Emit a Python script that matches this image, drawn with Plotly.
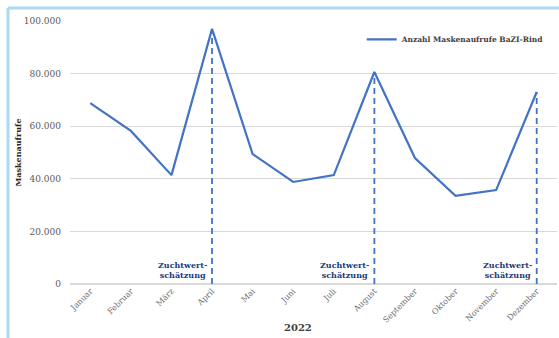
import plotly.graph_objects as go

months = ["Januar", "Februar", "März", "April", "Mai", "Juni", "Juli",
          "August", "September", "Oktober", "November", "Dezember"]
aufrufe = [68800, 58200, 41400, 97000, 49400, 38800, 41400,
           80600, 47900, 33500, 35700, 73000]
zws_months = ["April", "August", "Dezember"]
zws_label = "Zuchtwert-<br>schätzung"
x_title = "2022"
y_ticks = [0, 20000, 40000, 60000, 80000, 100000]

blue = "#4472c4"
font_fam = "DejaVu Serif"

fig = go.Figure()
fig.add_trace(go.Scatter(x=months, y=aufrufe, mode="lines",
                         line=dict(color=blue, width=2.2),
                         name="Anzahl Maskenaufrufe BaZI-Rind"))
for m in zws_months:
    v = aufrufe[months.index(m)]
    fig.add_trace(go.Scatter(x=[m, m], y=[0, v], mode="lines",
                             line=dict(color=blue, width=1.8, dash="6px,4px"),
                             showlegend=False, hoverinfo="skip"))
    fig.add_annotation(x=m, y=5300, xref="x", yref="y", text="<b>" + zws_label + "</b>",
                       showarrow=False, xanchor="right", yanchor="middle", xshift=-3,
                       align="center", font=dict(family=font_fam, size=8, color="#203a78"))

fig.add_annotation(x=(298 - 70) / 487, y=-0.165, xref="paper", yref="paper",
                   text="<b>" + x_title + "</b>", showarrow=False,
                   xanchor="center", yanchor="middle",
                   font=dict(family=font_fam, size=10, color="#404040"))

# frame lines (left and top) in paper coordinates
fig.add_shape(type="line", xref="paper", yref="paper", x0=-0.1273, x1=-0.1273,
              y0=-0.21, y1=1.0494, line=dict(color="#a9daf2", width=3))
fig.add_shape(type="line", xref="paper", yref="paper", x0=-0.1273, x1=1.01,
              y0=1.0494, y1=1.0494, line=dict(color="#a9daf2", width=3))

fig.update_layout(
    width=559, height=338,
    margin=dict(l=70, r=2, t=21, b=54),
    paper_bgcolor="white", plot_bgcolor="white",
    separators=",.",
    font=dict(family=font_fam, size=9, color="#595959"),
    showlegend=True,
    legend=dict(x=0.985, y=0.985, xanchor="right", yanchor="top",
                bgcolor="rgba(0,0,0,0)",
                font=dict(family=font_fam, size=7.5, color="#404040", weight="bold"),
                itemwidth=30),
    xaxis=dict(tickangle=-45, showgrid=False, showline=False, ticks="",
               range=[-0.5, 11.5],
               tickfont=dict(size=8, color="#6a6a6a")),
    yaxis=dict(range=[0, 100000], tickvals=y_ticks, tickformat=",d",
               showgrid=True, gridcolor="#d9d9d9", gridwidth=1,
               zeroline=True, zerolinecolor="#d9d9d9", showline=False,
               ticks="", ticklabelstandoff=8,
               tickfont=dict(size=9, color="#595959"),
               title=dict(text="<b>Maskenaufrufe</b>", standoff=0,
                          font=dict(size=8, color="#262626"))),
)

fig.write_html("out.html")
